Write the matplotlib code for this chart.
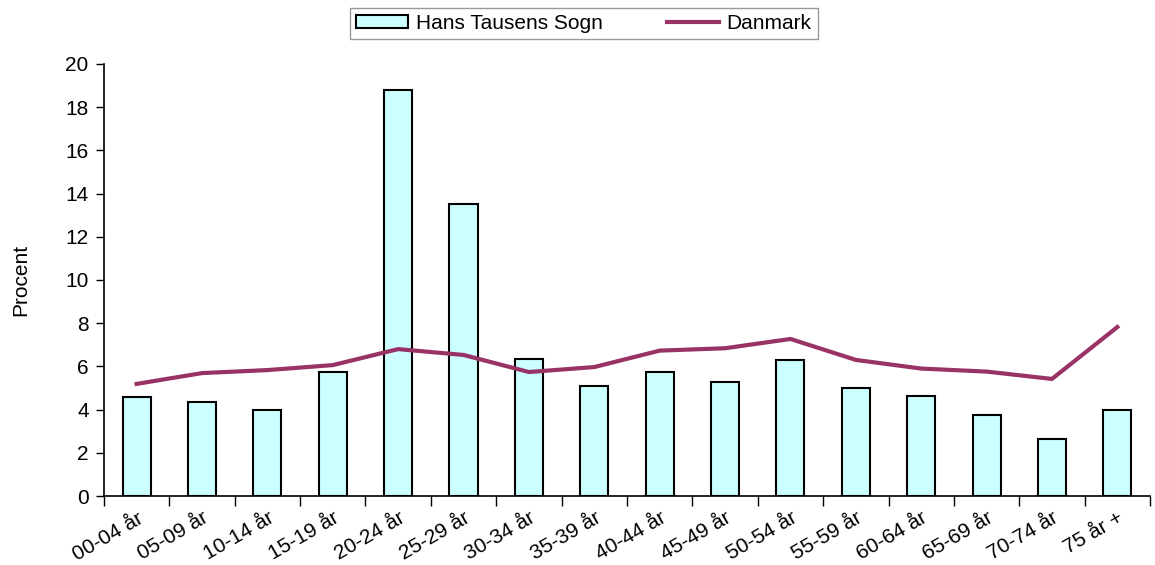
import numpy as np
import matplotlib.pyplot as plt

plt.rcParams['font.family'] = ['Liberation Sans', 'DejaVu Sans']

#---------------------------data---------------------------------------
age_groups = ["00-04 år", "05-09 år", "10-14 år", "15-19 år", "20-24 år", "25-29 år",
              "30-34 år", "35-39 år", "40-44 år", "45-49 år", "50-54 år", "55-59 år",
              "60-64 år", "65-69 år", "70-74 år", "75 år +"]
sogn = [4.58, 4.35, 3.98, 5.74, 18.78, 13.5, 6.36, 5.09, 5.76, 5.28,
        6.28, 5.0, 4.63, 3.77, 2.62, 3.98]
danmark = [5.19, 5.69, 5.83, 6.06, 6.8, 6.53, 5.74, 5.97, 6.73, 6.84,
           7.27, 6.3, 5.9, 5.76, 5.42, 7.82]

#---------------------------plot---------------------------------------
fig = plt.figure(figsize=(11.55, 5.65), dpi=100)
ax = fig.add_axes([0.09, 0.122, 0.9057, 0.765])

x = np.arange(len(age_groups))
bars = ax.bar(x, sogn, width=0.43, color='#CCFFFF', edgecolor='black', linewidth=1.5,
              label='Hans Tausens Sogn', zorder=2)
line, = ax.plot(x, danmark, color='#993366', linewidth=3, label='Danmark', zorder=3)

ax.set_xlim(-0.5, len(age_groups) - 0.5)
ax.set_ylim(0, 20)
ax.set_yticks(range(0, 21, 2))
ax.set_xticks(x)
ax.set_xticklabels(age_groups, rotation=30, ha='right', rotation_mode='anchor', fontsize=15)
ax.set_xticks(np.arange(-0.5, len(age_groups)), minor=True)
ax.tick_params(axis='x', which='major', length=0, pad=9)
ax.tick_params(axis='x', which='minor', length=7, width=1, direction='out')
ax.tick_params(axis='y', length=6, width=1, direction='out', labelsize=15, pad=5)
ax.set_ylabel('Procent', fontsize=15, labelpad=25)

for s in ['top', 'right']:
    ax.spines[s].set_visible(False)
for s in ['left', 'bottom']:
    ax.spines[s].set_linewidth(1.2)

# legend box stretched to the width used in the original
leg = fig.legend([bars, line], ['Hans Tausens Sogn', 'Danmark'],
                 loc='upper left', bbox_to_anchor=(0.303, 0.986, 0.405, 0.0), mode='expand',
                 ncol=2, fontsize=15, frameon=True, fancybox=False, edgecolor='#808080',
                 handlelength=2.5, handleheight=0.6, handletextpad=0.35,
                 columnspacing=1.6, borderpad=0.3, borderaxespad=0)
leg.get_frame().set_linewidth(1)

fig.savefig('out.png', dpi=100)
